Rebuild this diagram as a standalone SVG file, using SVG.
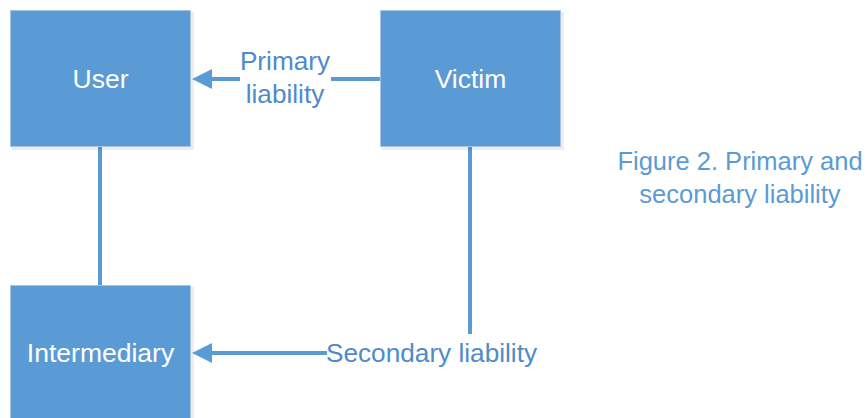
<svg xmlns="http://www.w3.org/2000/svg" width="867" height="418" viewBox="0 0 867 418">
  <style>
    .box { fill: #5B9BD5; stroke: #A9C4E3; stroke-width: 1; }
    .shadow { fill: #000000; opacity: 0.07; }
    .boxtext { font-family: "Liberation Sans", Arial, sans-serif; font-size: 26.5px; fill: #FFFFFF; text-anchor: middle; }
    .label { font-family: "Liberation Sans", Arial, sans-serif; font-size: 26.2px; fill: #4F8BC9; }
    .caption { font-family: "Liberation Sans", Arial, sans-serif; font-size: 25.5px; fill: #5B9BD5; text-anchor: middle; }
    .conn { fill: none; stroke: #5B9BD5; stroke-width: 4; }
  </style>
  <defs>
    <marker id="arrow" markerUnits="userSpaceOnUse" markerWidth="20" markerHeight="20" viewBox="0 0 20 20" refX="7" refY="10" orient="auto">
      <path d="M0,0 L20,10 L0,20 Z" fill="#5B9BD5"/>
    </marker>
  </defs>
  <rect width="867" height="418" fill="#FFFFFF"/>

  <g id="connectors">
    <path class="conn" d="M380,79 H331"/>
    <path class="conn" d="M240,79 H205" marker-end="url(#arrow)"/>
    <path class="conn" d="M100,147 V285"/>
    <path class="conn" d="M470,147 V334"/>
    <path class="conn" d="M327,353 H205" marker-end="url(#arrow)"/>
  </g>

  <g id="user">
    <rect class="shadow" x="12" y="12" width="182" height="138"/>
    <rect class="box" x="10.5" y="10.5" width="180" height="136"/>
    <text class="boxtext" x="100.5" y="88">User</text>
  </g>

  <g id="victim">
    <rect class="shadow" x="382" y="12" width="182" height="138"/>
    <rect class="box" x="380.5" y="10.5" width="180" height="136"/>
    <text class="boxtext" x="470.5" y="88">Victim</text>
  </g>

  <g id="intermediary">
    <rect class="shadow" x="12" y="287" width="182" height="140"/>
    <rect class="box" x="10.5" y="285.5" width="180" height="140"/>
    <text class="boxtext" x="100.5" y="362">Intermediary</text>
  </g>

  <g id="labels">
    <text class="label" x="285" y="70" text-anchor="middle">Primary</text>
    <text class="label" x="285" y="103" text-anchor="middle">liability</text>
    <text class="label" x="326" y="362">Secondary liability</text>
  </g>

  <g id="caption">
    <text class="caption" x="740" y="170">Figure 2. Primary and</text>
    <text class="caption" x="740" y="203">secondary liability</text>
  </g>
</svg>
